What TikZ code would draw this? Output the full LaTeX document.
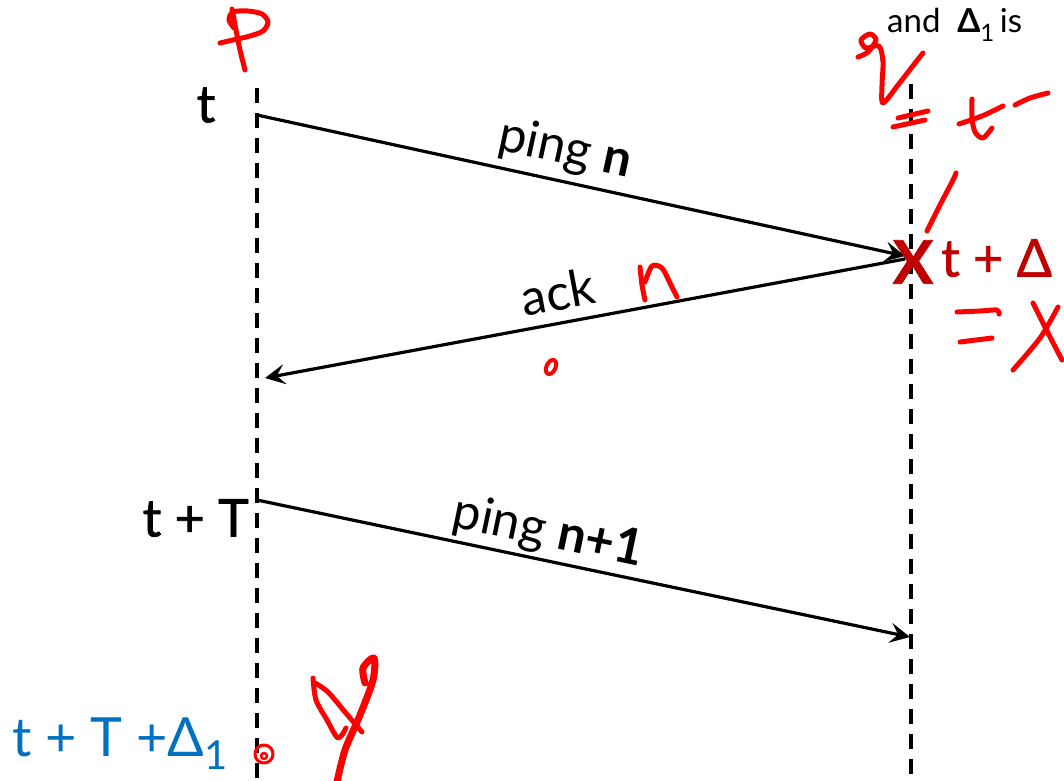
\documentclass[tikz,border=0pt]{standalone}
\usepackage{fontspec}
\setmainfont{Lato}
\newfontfamily\semib{Lato}[FakeBold=1.3]
\usetikzlibrary{arrows.meta}
\definecolor{inkred}{RGB}{255,0,0}
\definecolor{darkred}{RGB}{192,0,0}
\definecolor{tblue}{RGB}{0,112,192}
\tikzset{
  life/.style={line width=3.5pt, dash pattern=on 15pt off 10pt},
  msg/.style={line width=3.2pt, -{Stealth[length=20pt,width=20pt,inset=8pt]}},
  ink/.style={draw=inkred, line width=5pt, line cap=round, line join=round},
  big/.style={font=\fontsize{52}{60}\selectfont\semib, inner sep=0pt},
  lbl/.style={font=\fontsize{50}{60}\selectfont, inner sep=0pt},
}
\begin{document}
\begin{tikzpicture}[x=1pt,y=-1pt]
\clip (0,0) rectangle (1064,780);
\fill[white] (0,0) rectangle (1064,780);
% lifelines
\coordinate (pTop) at (257,88);
\coordinate (pBot) at (257,780);
\coordinate (qTop) at (911,84);
\coordinate (qBot) at (911,780);
\draw[life] (pTop) -- (pBot);
\draw[life] (qTop) -- (qBot);
% message end points
\coordinate (p1) at (257,115);
\coordinate (q1) at (905,256);
\coordinate (q2) at (905,259);
\coordinate (p2) at (265,378);
\coordinate (p3) at (257,500);
\coordinate (q3) at (910,637);
\draw[msg] (p1) -- (q1);
\draw[msg] (q2) -- (p2);
\draw[msg] (p3) -- (q3);
% message labels
\node[lbl, rotate=-12.2] (lping) at (565,150) {ping \textbf{n}};
\node[lbl, rotate=10.6] (lack) at (558,292) {ack};
\node[lbl, rotate=-11.8] (lping2) at (548,533) {ping \textbf{n+1}};
% time labels
\node[big] (tl) at (206,105) {t};
\node[big, anchor=east] (tT) at (249,518) {t + T};
\node[font=\fontsize{54}{60}\selectfont, inner sep=0pt, anchor=base west, text=tblue] (tTD) at (12,756)
  {t + T +Δ\raisebox{-0.25em}{\fontsize{40}{44}\selectfont 1}};
\node[font=\fontsize{60}{64}\selectfont\semib\bfseries, inner sep=0pt, text=darkred] (xmark) at (913,262) {X};
\node[big, anchor=west, text=darkred] (tD) at (941,258) {t + Δ};
\node[font=\fontsize{33}{36}\selectfont, inner sep=0pt, anchor=base west] (note) at (887,32)
  {and\ \ \textbf{Δ}\raisebox{-0.3em}{\fontsize{24}{26}\selectfont 1}\,is};
% handwritten ink annotations
\draw[ink] plot[smooth] coordinates {(232,9) (236,30) (240,50) (245,70)};
\draw[ink] plot[smooth] coordinates {(220,43) (233,40) (250,36) (263,31) (268,22) (262,14) (248,11) (233,12) (229,20) (234,28)};
\draw[ink] plot[smooth] coordinates {(858,57) (868,52) (876,40) (870,34) (861,40) (866,48) (879,46) (883,62) (882,85) (883,103) (898,85) (912,67) (923,53)};
\draw[ink] (898,118) -- (928,111);
\draw[ink] (893,127) -- (925,120);
\draw[ink] plot[smooth] coordinates {(972,99) (972,118) (975,132) (983,138) (992,128)};
\draw[ink] plot[smooth] coordinates {(959,124) (982,116) (1003,106)};
\draw[ink] plot[smooth] coordinates {(1015,105) (1030,98) (1048,93)};
\draw[ink] plot[smooth] coordinates {(927,231) (940,205) (953,180) (956,173)};
\draw[ink] plot[smooth] coordinates {(957,312) (980,311) (997,310) (999,314)};
\draw[ink] plot[smooth] coordinates {(960,342) (976,340) (992,338)};
\draw[ink] plot[smooth] coordinates {(1033,303) (1048,333) (1062,360)};
\draw[ink] plot[smooth] coordinates {(1058,307) (1040,338) (1013,370)};
\draw[ink] plot[smooth] coordinates {(640,267) (642,285) (645,300)};
\draw[ink] plot[smooth] coordinates {(645,282) (652,266) (662,268) (670,283) (677,297)};
\draw[ink, line width=4pt] (551,367) ellipse[x radius=4.5, y radius=7.5, rotate=-25];
\draw[ink, line width=3pt] (264,754) circle[radius=9];
\draw[ink, line width=2.5pt] (264,756) circle[radius=3];
\draw[ink] plot[smooth] coordinates {(313,678) (316,700) (327,720) (338,738) (346,728)};
\draw[ink] plot[smooth] coordinates {(315,683) (328,692) (345,712) (362,732)};
\draw[ink, line width=7pt] plot[smooth] coordinates {(365,683) (363,668) (374,658) (373,680) (360,715) (345,750) (337,782)};
\end{tikzpicture}
\end{document}
